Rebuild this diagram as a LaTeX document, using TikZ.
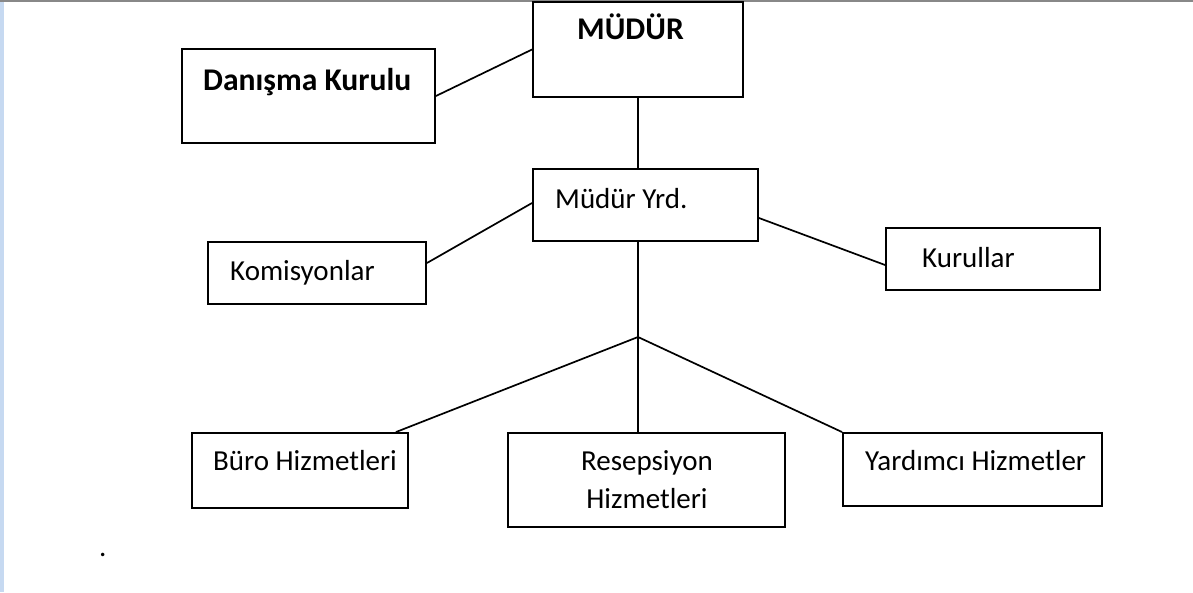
\documentclass[tikz,border=0pt]{standalone}
\usepackage{fontspec}
\setmainfont{Carlito}
\usetikzlibrary{calc}
\definecolor{sidebar}{HTML}{C6D9F1}
\definecolor{topline}{HTML}{888888}
\tikzset{
  box/.style={draw=black, line width=1.9pt, rectangle, inner sep=0pt},
  conn/.style={draw=black, line width=1.7pt},
  txt/.style={inner sep=0pt, anchor=base west, font=\fontsize{29}{35}\selectfont},
  txtc/.style={inner sep=0pt, anchor=base, font=\fontsize{29}{35}\selectfont},
  btxt/.style={inner sep=0pt, anchor=base west, font=\fontsize{31.6}{38}\selectfont\bfseries},
}
\begin{document}
\begin{tikzpicture}[x=1pt,y=-1pt]
\useasboundingbox (0,0) rectangle (1193,592);
\fill[white] (0,0) rectangle (1193,592);
\fill[sidebar] (0,0) rectangle (4,592);
\fill[topline] (0,0) rectangle (1193,2.2);

% boxes
\node[box, minimum width=253pt, minimum height=94pt] (dk) at (308.5,96) {};
\node[box, minimum width=210pt, minimum height=95pt] (md) at (638,49.5) {};
\node[box, minimum width=225pt, minimum height=72pt] (my) at (645.5,205) {};
\node[box, minimum width=218pt, minimum height=62pt] (km) at (317,273) {};
\node[box, minimum width=214pt, minimum height=62pt] (kr) at (993,259) {};
\node[box, minimum width=216pt, minimum height=75pt] (bu) at (300,470.5) {};
\node[box, minimum width=277pt, minimum height=94pt] (rs) at (646.5,480) {};
\node[box, minimum width=259pt, minimum height=73pt] (yd) at (972.5,469.5) {};

% texts
\node[btxt] (tdk) at (203,90) {Danışma Kurulu};
\node[btxt] (tmd) at (577,39) {MÜDÜR};
\node[txt] (tmy) at (555,208) {Müdür Yrd.};
\node[txt] (tkm) at (230,280) {Komisyonlar};
\node[txt] (tkr) at (922,267) {Kurullar};
\node[txt] (tbu) at (213,470) {Büro Hizmetleri};
\node[txtc] (trs1) at (647,470) {Resepsiyon};
\node[txtc] (trs2) at (647,508) {Hizmetleri};
\node[txt] (tyd) at (865,470) {Yardımcı Hizmetler};
\node[txt] (dot) at (99,556) {.};

% connectors
\coordinate (j) at (638,337);
\draw[conn] (dk.east) -- (md.west);
\draw[conn] (md.south) -- (md.south |- my.north);
\draw[conn] ($(my.west)+(0,-2)$) -- ($(km.east)+(0,-10)$);
\draw[conn] ($(my.east)+(0,13)$) -- ($(kr.west)+(0,6)$);
\draw[conn] (md.south |- my.south) -- (j);
\draw[conn] (j) -- ($(bu.north east)+(-13,0)$);
\draw[conn] (j) -- (j |- rs.north);
\draw[conn] (j) -- (yd.north west);
\end{tikzpicture}
\end{document}
